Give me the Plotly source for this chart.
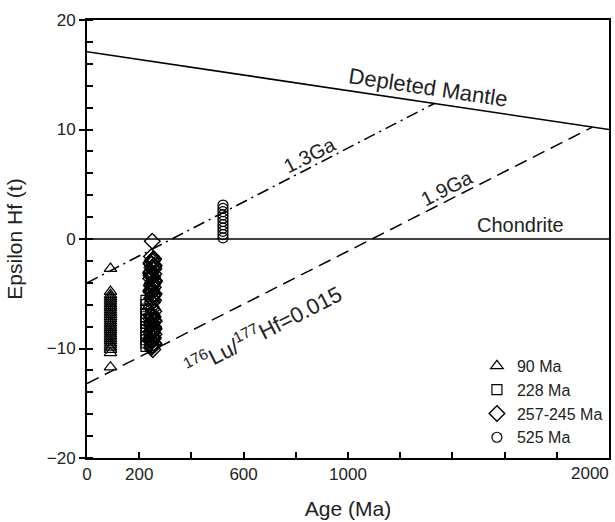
import plotly.graph_objects as go

# ---- data ----
dm_age = [0, 2000]
dm_eps = [17.1, 10.0]
chur_age = [0, 2000]
chur_eps = [0, 0]
g13_age = [0, 1333]
g13_eps = [-4.0, 12.4]
g19_age = [0, 1935]
g19_eps = [-13.2, 10.2]

tri_age = [90] * 30
tri_eps = [-2.7, -4.8, -5.1, -5.3, -5.5, -5.7, -5.9, -6.1, -6.3, -6.5, -6.7, -6.9,
           -7.1, -7.3, -7.5, -7.7, -7.9, -8.1, -8.3, -8.5, -8.7, -8.9, -9.1, -9.3,
           -9.5, -9.7, -9.9, -10.1, -10.4, -11.7]

sq_age = [226] * 14
sq_eps = [-5.6, -6.0, -6.4, -6.8, -7.1, -7.4, -7.7, -8.0, -8.3, -8.6, -8.9, -9.2, -9.5, -9.8]

dia_age = [250, 247, 255, 250, 245, 257, 249, 253, 246, 256, 250, 244, 258, 251,
           247, 254, 249, 245, 257, 252, 248, 255, 250, 246, 256, 249, 253, 245,
           258, 250, 247, 255, 251, 244, 257, 249, 253, 246, 255, 250, 248, 252,
           250, 246, 254, 253, 247, 256, 244, 251, 258, 248, 245, 255, 250, 252,
           246, 257, 249, 254, 247, 250, 256, 245, 252, 248, 255, 251, 244, 257]
dia_eps = [-0.2, -1.6, -1.8, -2.0, -2.2, -2.4, -2.6, -2.8, -3.0, -3.2, -3.4, -3.6,
           -3.8, -4.0, -4.2, -4.4, -4.6, -4.8, -5.0, -5.2, -5.4, -5.6, -5.8, -6.2,
           -6.6, -6.9, -7.1, -7.3, -7.5, -7.7, -7.9, -8.1, -8.3, -8.5, -8.7, -8.9,
           -9.1, -9.3, -9.5, -9.7, -9.9, -10.1, -6.4, -7.0, -8.0, -1.9, -2.3, -2.7,
           -3.1, -3.5, -3.9, -4.3, -4.7, -5.1, -5.5, -7.2, -7.6, -8.2, -8.6, -9.0,
           -9.4, -9.8, -2.5, -3.3, -4.1, -4.9, -7.4, -8.4, -9.2, -9.6]

circ_age = [521] * 11
circ_eps = [3.1, 2.8, 2.5, 2.2, 1.9, 1.6, 1.3, 1.0, 0.7, 0.4, 0.1]

x_ticks = [0, 200, 400, 600, 800, 1000, 1200, 1400, 1600, 1800, 2000]
x_text = ["0", "200", "", "600", "", "1000", "", "", "", "", ""]
x_last_label = "2000"
y_ticks = [-20, -10, 0, 10, 20]

FONT = "Liberation Sans, Arial, sans-serif"
TXT = "#222222"

fig = go.Figure()

# reference lines
fig.add_trace(go.Scatter(x=dm_age, y=dm_eps, mode="lines",
                         line=dict(color="black", width=1.6), showlegend=False))
fig.add_trace(go.Scatter(x=chur_age, y=chur_eps, mode="lines",
                         line=dict(color="black", width=1.6), showlegend=False))
fig.add_trace(go.Scatter(x=g13_age, y=g13_eps, mode="lines",
                         line=dict(color="black", width=1.5, dash="12px,5px,2px,5px"),
                         showlegend=False))
fig.add_trace(go.Scatter(x=g19_age, y=g19_eps, mode="lines",
                         line=dict(color="black", width=1.5, dash="13px,7px"),
                         showlegend=False))

def mk(sym, size, w=1.2):
    return dict(symbol=sym, size=size, color="black", line=dict(width=w, color="black"))

fig.add_trace(go.Scatter(x=tri_age, y=tri_eps, mode="markers", name="90 Ma",
                         marker=mk("triangle-up-open", 11)))
fig.add_trace(go.Scatter(x=sq_age, y=sq_eps, mode="markers", name="228 Ma",
                         marker=mk("square-open", 10)))
fig.add_trace(go.Scatter(x=dia_age, y=dia_eps, mode="markers", name="257-245 Ma",
                         marker=mk("diamond-open", 12, 1.4)))
fig.add_trace(go.Scatter(x=circ_age, y=circ_eps, mode="markers", name="525 Ma",
                         marker=mk("circle-open", 10)))

# invisible trace to carry the inside major ticks of the y axis
fig.add_trace(go.Scatter(x=[0], y=[0], yaxis="y2", mode="markers",
                         marker=dict(opacity=0), showlegend=False, hoverinfo="skip"))

fig.update_layout(
    width=615, height=522,
    margin=dict(l=87, r=6, t=20, b=64),
    paper_bgcolor="white", plot_bgcolor="white",
    font=dict(family=FONT, color=TXT, size=17),
    showlegend=True,
    legend=dict(x=0.747, y=0.249, xanchor="left", yanchor="top",
                bgcolor="rgba(0,0,0,0)", font=dict(size=16, color=TXT),
                itemwidth=30),
    xaxis=dict(range=[0, 2000], tickvals=x_ticks, ticktext=x_text, automargin=False,
               ticks="inside", ticklen=6, tickwidth=1.5, tickcolor="black",
               showline=True, linecolor="black", linewidth=2, mirror=True,
               showgrid=False, zeroline=False,
               tickfont=dict(size=17, color=TXT),
               title=dict(text="Age (Ma)", font=dict(size=21, color=TXT), standoff=18)),
    yaxis=dict(range=[-20, 20], tickvals=y_ticks, automargin=False,
               ticks="outside", ticklen=6, tickwidth=1.5, tickcolor="black",
               minor=dict(dtick=2, tick0=0, ticks="inside", ticklen=6, tickwidth=1.5,
                          tickcolor="black"),
               showline=True, linecolor="black", linewidth=2, mirror=True,
               showgrid=False, zeroline=False,
               tickfont=dict(size=17, color=TXT),
               title=dict(text="Epsilon Hf (t)", font=dict(size=21, color=TXT), standoff=18)),
    yaxis2=dict(range=[-20, 20], overlaying="y", side="left", anchor="x", automargin=False,
                tickvals=y_ticks, ticks="inside", ticklen=6, tickwidth=1.5,
                tickcolor="black", showticklabels=False, showline=False,
                showgrid=False, zeroline=False),
)

# last x tick label, right-aligned so it stays inside the page
fig.add_annotation(x=x_ticks[-1], y=0, xref="x", yref="paper", text=x_last_label,
                   showarrow=False, xanchor="right", yanchor="top", xshift=2, yshift=-4,
                   font=dict(family=FONT, size=17, color=TXT))

ann = dict(showarrow=False, font=dict(family=FONT, size=20, color=TXT),
           xref="x", yref="y")
fig.add_annotation(x=1306, y=13.8, text="Depleted Mantle", textangle=8.5,
                   showarrow=False, xref="x", yref="y",
                   font=dict(family=FONT, size=22, color=TXT))
fig.add_annotation(x=854, y=7.7, text="1.3Ga", textangle=-27, **ann)
fig.add_annotation(x=1379, y=4.7, text="1.9Ga", textangle=-27, **ann)
fig.add_annotation(x=1659, y=1.3, text="Chondrite", **ann)
fig.add_annotation(x=674, y=-8.3, text="<sup>176</sup>Lu/<sup>177</sup>Hf=0.015",
                   textangle=-27, showarrow=False, xref="x", yref="y",
                   font=dict(family=FONT, size=22, color=TXT))

fig.write_html("out.html", config={"displayModeBar": False},
               post_script="document.body.style.margin='0px';")
